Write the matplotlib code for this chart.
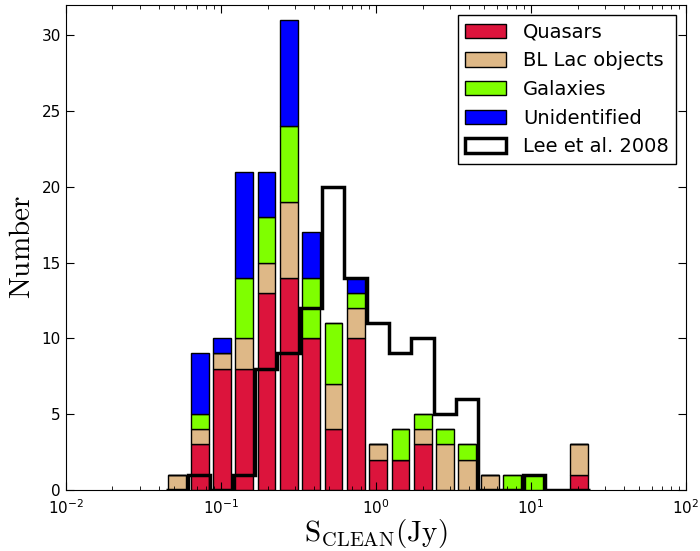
import numpy as np
import matplotlib
matplotlib.use('Agg')
import matplotlib.pyplot as plt

plt.rcParams['mathtext.fontset'] = 'cm'
plt.rcParams['xtick.direction'] = 'in'
plt.rcParams['ytick.direction'] = 'in'

# Bordes de los bins (log), 19 bins
log_lo, log_hi, nbins = -1.355, 1.379, 19
edges = np.logspace(log_lo, log_hi, nbins + 1)
centers = np.sqrt(edges[:-1] * edges[1:])

# Conteos por bin
quasars = [0, 3, 8, 8, 13, 14, 10, 4, 10, 2, 2, 3, 0, 0, 0, 0, 0, 0, 1]
bllac = [1, 1, 1, 2, 2, 5, 0, 3, 2, 1, 0, 1, 3, 2, 1, 0, 0, 0, 2]
galaxies = [0, 1, 0, 4, 3, 5, 4, 4, 1, 0, 2, 1, 1, 1, 0, 1, 1, 0, 0]
unident = [0, 4, 1, 7, 3, 7, 3, 0, 1, 0, 0, 0, 0, 0, 0, 0, 0, 0, 0]
lee2008 = [0, 1, 0, 1, 8, 9, 12, 20, 14, 11, 9, 10, 5, 6, 0, 0, 1, 0, 0]

labels = ['Quasars', 'BL Lac objects', 'Galaxies', 'Unidentified']
colors = ['crimson', 'burlywood', 'chartreuse', 'blue']

fig = plt.figure(figsize=(7, 5.51), dpi=100)
ax = fig.add_axes([0.094, 0.111, 0.886, 0.88])

ax.hist([centers] * 4, bins=edges,
        weights=[quasars, bllac, galaxies, unident],
        stacked=True, rwidth=0.8, color=colors, label=labels,
        edgecolor='black', linewidth=1.0)
ax.hist(centers, bins=edges, weights=lee2008, histtype='step',
        color='black', linewidth=2.5, label='Lee et al. 2008')

ax.set_xscale('log')
ax.set_xlim(1e-2, 1e2)
ax.set_ylim(0, 32)
ax.set_yticks(np.arange(0, 31, 5))
ax.tick_params(which='both', top=True, right=True, labelsize=11)
ax.tick_params(which='major', length=6)
ax.tick_params(which='minor', length=3)
ax.tick_params(axis='x', which='major', pad=6)

ax.set_xlabel(r'$\mathrm{S_{CLEAN}(Jy)}$', fontsize=21, labelpad=0)
ax.set_ylabel(r'$\mathrm{Number}$', fontsize=21)

leg = ax.legend(loc='upper right', fontsize=14, fancybox=False,
                framealpha=1, edgecolor='black', borderpad=0.4,
                handlelength=2.1, handleheight=0.75, handletextpad=0.85,
                labelspacing=0.5)
leg.get_frame().set_linewidth(1.0)

fig.savefig('out.png', dpi=100)
